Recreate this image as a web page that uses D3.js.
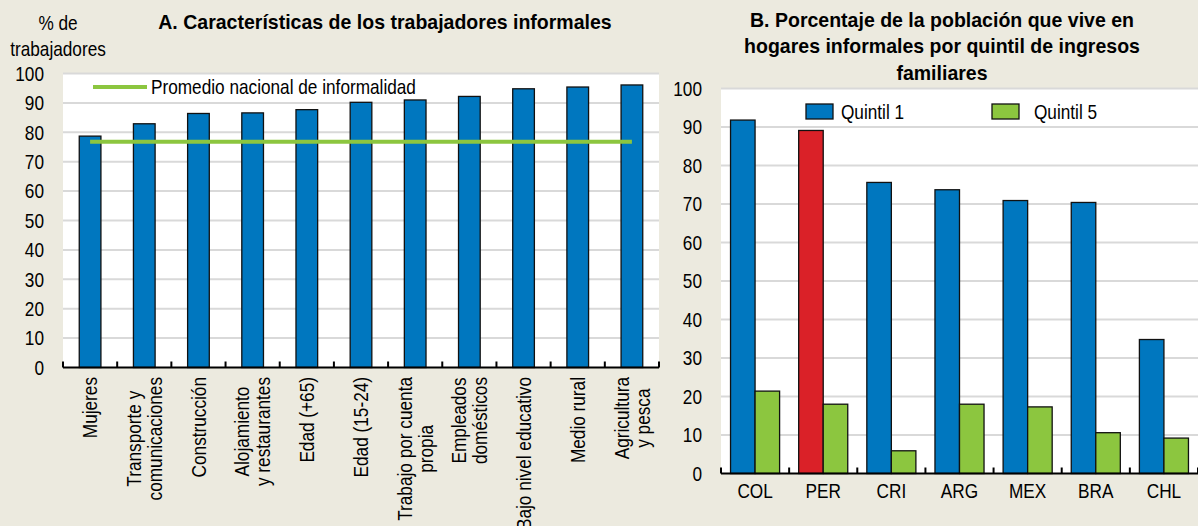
<!DOCTYPE html>
<html>
<head>
<meta charset="utf-8">
<script src="https://cdn.jsdelivr.net/npm/d3@7"></script>
<style>
  html, body { margin: 0; padding: 0; background: #ECEADF; }
  svg { display: block; font-family: "Liberation Sans", Arial, sans-serif; }
  text { fill: #000; }
</style>
</head>
<body>
<svg id="chart" width="1198" height="526"></svg>
<script>
// Panel A: share of informal workers by characteristic (%)
const categoriesA = [
  ["Mujeres"],
  ["Transporte y", "comunicaciones"],
  ["Construcción"],
  ["Alojamiento", "y restaurantes"],
  ["Edad (+65)"],
  ["Edad (15-24)"],
  ["Trabajo por cuenta", "propia"],
  ["Empleados", "domésticos"],
  ["Bajo nivel educativo"],
  ["Medio rural"],
  ["Agricultura", "y pesca"]
];
const valuesA = [78.7, 82.9, 86.4, 86.6, 87.7, 90.2, 91.0, 92.2, 94.8, 95.4, 96.1];
const nationalAverage = 76.8;
const legendA = "Promedio nacional de informalidad";

// Panel B: population living in informal households by income quintil (%)
const countriesB = ["COL", "PER", "CRI", "ARG", "MEX", "BRA", "CHL"];
const quintil1 = [91.8, 89.1, 75.6, 73.7, 70.9, 70.4, 34.8];
const quintil5 = [21.4, 18.0, 5.9, 18.0, 17.3, 10.6, 9.2];
const seriesB = ["Quintil 1", "Quintil 5"];

const yTicks = [0, 10, 20, 30, 40, 50, 60, 70, 80, 90, 100];

const titleA = "A. Características de los trabajadores informales";
const titleB = ["B. Porcentaje de la población que vive en",
                "hogares informales por quintil de ingresos",
                "familiares"];
const unitA = ["% de", "trabajadores"];

const BLUE = "#0077BF", GREEN = "#8CC63F", RED = "#DA2128";
const GRID = "#D9D9D9";
const FS = 21, SQ = 0.82, SQ_TITLE = 0.93;
const highlight = "PER";

const svg = d3.select("#chart");

// horizontal squeeze of a text around its anchor point
function squeeze(sel, k) {
  sel.each(function () {
    const t = d3.select(this);
    const x = +t.attr("x") || 0, y = +t.attr("y") || 0;
    t.attr("transform", `translate(${x},${y}) scale(${k},1) translate(${-x},${-y})`);
  });
}

function yAxisLabels(g, y) {
  const ax = g.call(d3.axisLeft(y).tickValues(yTicks).tickSize(0).tickPadding(19));
  ax.select(".domain").remove();
  ax.attr("font-size", FS).attr("font-family", null);
  ax.selectAll("text").attr("fill", "#000");
  squeeze(ax.selectAll("text"), SQ);
}

function grid(g, y, x0, x1) {
  g.selectAll("line.grid").data(yTicks.filter(d => d > 0)).join("line")
    .attr("class", "grid")
    .attr("x1", x0).attr("x2", x1)
    .attr("y1", d => y(d)).attr("y2", d => y(d))
    .attr("stroke", GRID).attr("stroke-width", 2);
}

function baseline(g, x, y, n, x0, x1) {
  g.append("line").attr("x1", x0).attr("x2", x1)
    .attr("y1", y(0)).attr("y2", y(0))
    .attr("stroke", "#000").attr("stroke-width", 2);
  const step = (x1 - x0) / n;
  g.selectAll("line.tk").data(d3.range(n + 1)).join("line")
    .attr("class", "tk")
    .attr("x1", i => x0 + i * step).attr("x2", i => x0 + i * step)
    .attr("y1", y(0)).attr("y2", y(0) - 6)
    .attr("stroke", "#000").attr("stroke-width", 2);
}

/* ---------------- Panel A ---------------- */
const aX0 = 63, aX1 = 659, aTop = 73.5, aBot = 367.5;
const xA = d3.scaleBand().domain(d3.range(categoriesA.length)).range([aX0, aX1]).padding(0);
const yA = d3.scaleLinear().domain([0, 100]).range([aBot, aTop]);
const gA = svg.append("g");

gA.append("rect").attr("x", aX0).attr("y", aTop).attr("width", aX1 - aX0).attr("height", aBot - aTop).attr("fill", "#fff");
grid(gA, yA, aX0, aX1);

const bwA = xA.bandwidth() * 0.4;
gA.selectAll("rect.bar").data(valuesA).join("rect")
  .attr("class", "bar")
  .attr("x", (d, i) => xA(i) + xA.bandwidth() / 2 - bwA / 2)
  .attr("y", d => yA(d))
  .attr("width", bwA)
  .attr("height", d => yA(0) - yA(d))
  .attr("fill", BLUE).attr("stroke", "#111").attr("stroke-width", 1.3);

gA.append("line")
  .attr("x1", xA(0) + xA.bandwidth() / 2)
  .attr("x2", xA(categoriesA.length - 1) + xA.bandwidth() / 2)
  .attr("y1", yA(nationalAverage)).attr("y2", yA(nationalAverage))
  .attr("stroke", GREEN).attr("stroke-width", 4);

baseline(gA, xA, yA, categoriesA.length, aX0, aX1);

const yAxA = gA.append("g").attr("transform", `translate(${aX0},0)`);
yAxisLabels(yAxA, yA);

// legend A
gA.append("line").attr("x1", 93).attr("x2", 147).attr("y1", 87).attr("y2", 87)
  .attr("stroke", GREEN).attr("stroke-width", 4);
squeeze(gA.append("text").attr("x", 151).attr("y", 94.5).attr("font-size", FS).text(legendA), SQ);

// rotated category labels
const lineH = 21;
categoriesA.forEach((lines, i) => {
  const cx = xA(i) + xA.bandwidth() / 2;
  const g = gA.append("g").attr("transform", `translate(${cx},377) rotate(-90) scale(${SQ},1)`);
  const ts = lines.map((s, j) => g.append("text")
    .attr("font-size", FS).attr("text-anchor", "middle")
    .attr("y", (j - (lines.length - 1) / 2) * lineH)
    .attr("dy", "0.35em").text(s));
  const maxLen = d3.max(ts, t => t.node().getComputedTextLength());
  ts.forEach(t => t.attr("x", -maxLen / 2));
});

// titles A
squeeze(svg.append("text").attr("x", 385).attr("y", 29).attr("text-anchor", "middle")
  .attr("font-size", FS).attr("font-weight", "bold").text(titleA), SQ_TITLE);
unitA.forEach((s, j) => {
  squeeze(svg.append("text").attr("x", 58).attr("y", 30 + j * 26).attr("text-anchor", "middle")
    .attr("font-size", FS).text(s), SQ);
});

/* ---------------- Panel B ---------------- */
const bX0 = 721, bX1 = 1198, bTop = 88.5, bBot = 473.5;
const xB = d3.scaleBand().domain(countriesB).range([bX0, bX1]).padding(0);
const bwB = xB.bandwidth() * 0.36;
const xB1 = d3.scaleBand().domain(seriesB).range([-bwB, bwB]).padding(0);
const yB = d3.scaleLinear().domain([0, 100]).range([bBot, bTop]);
const gB = svg.append("g");

gB.append("rect").attr("x", bX0).attr("y", bTop).attr("width", bX1 - bX0).attr("height", bBot - bTop).attr("fill", "#fff");
grid(gB, yB, bX0, bX1);

const rowsB = countriesB.map((c, i) => ({ c, vals: [quintil1[i], quintil5[i]] }));
const grp = gB.selectAll("g.grp").data(rowsB).join("g")
  .attr("class", "grp")
  .attr("transform", d => `translate(${xB(d.c) + xB.bandwidth() / 2},0)`);
grp.selectAll("rect").data(d => d.vals.map((v, k) => ({ c: d.c, s: seriesB[k], v }))).join("rect")
  .attr("x", d => xB1(d.s))
  .attr("y", d => yB(d.v))
  .attr("width", xB1.bandwidth())
  .attr("height", d => yB(0) - yB(d.v))
  .attr("fill", d => d.s === seriesB[0] ? (d.c === highlight ? RED : BLUE) : GREEN)
  .attr("stroke", "#111").attr("stroke-width", 1.3);

baseline(gB, xB, yB, countriesB.length, bX0, bX1);

const yAxB = gB.append("g").attr("transform", `translate(${bX0},0)`);
yAxisLabels(yAxB, yB);

// country labels
squeeze(gB.selectAll("text.cl").data(countriesB).join("text")
  .attr("class", "cl")
  .attr("x", d => xB(d) + xB.bandwidth() / 2).attr("y", 498)
  .attr("text-anchor", "middle").attr("font-size", FS).text(d => d), SQ);

// legend B
const legB = [{ s: seriesB[0], fill: BLUE, x: 806, tx: 841 }, { s: seriesB[1], fill: GREEN, x: 992, tx: 1034 }];
legB.forEach(l => {
  gB.append("rect").attr("x", l.x).attr("y", 104).attr("width", 27).attr("height", 15)
    .attr("fill", l.fill).attr("stroke", "#111").attr("stroke-width", 1.3);
  squeeze(gB.append("text").attr("x", l.tx).attr("y", 119).attr("font-size", FS).text(l.s), SQ);
});

// title B
titleB.forEach((s, j) => {
  squeeze(svg.append("text").attr("x", 942).attr("y", 27 + j * 26.5).attr("text-anchor", "middle")
    .attr("font-size", FS).attr("font-weight", "bold").text(s), SQ_TITLE);
});
</script>
</body>
</html>
